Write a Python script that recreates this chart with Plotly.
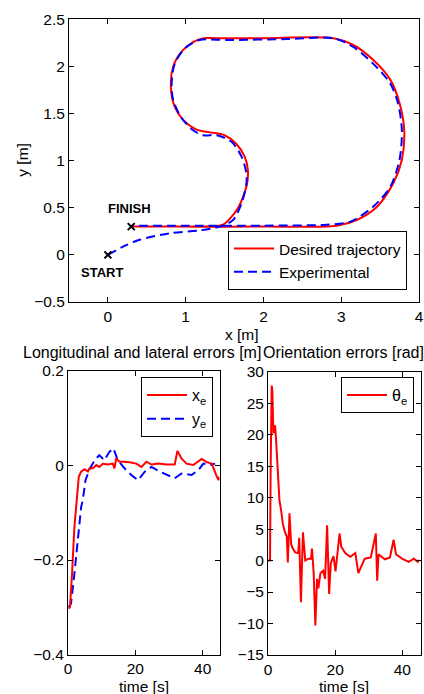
import plotly.graph_objects as go

# ---------------- data: trajectory (m) ----------------
des_x = [0.30, 1.00, 1.30, 1.48, 1.66, 1.78, 1.80, 1.76, 1.65, 1.50, 1.31, 1.14, 0.97, 0.86, 0.81, 0.84,
         0.95, 1.10, 1.23, 1.40, 2.00, 2.90, 3.15, 3.41, 3.63, 3.75, 3.81, 3.78, 3.67, 3.46, 3.20, 2.94,
         2.00, 1.00, 0.30]
des_y = [0.30, 0.30, 0.30, 0.32, 0.48, 0.72, 0.90, 1.04, 1.18, 1.27, 1.30, 1.33, 1.43, 1.57, 1.78, 2.00,
         2.16, 2.26, 2.30, 2.30, 2.30, 2.30, 2.23, 2.07, 1.86, 1.61, 1.32, 1.01, 0.76, 0.51, 0.37, 0.31,
         0.30, 0.30, 0.30]

exp_x = [0.00, 0.20, 0.41, 0.80, 1.18, 1.44, 1.61, 1.72, 1.78, 1.78, 1.72, 1.59, 1.40, 1.23, 1.10, 0.95,
         0.84, 0.82, 0.86, 0.99, 1.18, 1.53, 2.30, 2.90, 3.15, 3.41, 3.63, 3.73, 3.78, 3.75, 3.63, 3.41,
         3.11, 2.81, 2.00, 1.00, 0.30]
exp_y = [0.00, 0.09, 0.16, 0.23, 0.26, 0.30, 0.37, 0.55, 0.75, 0.87, 1.04, 1.20, 1.27, 1.27, 1.32, 1.45,
         1.64, 1.82, 2.03, 2.19, 2.28, 2.28, 2.29, 2.30, 2.21, 2.03, 1.82, 1.61, 1.32, 1.01, 0.72, 0.51,
         0.35, 0.32, 0.31, 0.31, 0.31]

start_pt = [0.0, 0.0]
finish_pt = [0.3, 0.3]

# ---------------- data: longitudinal / lateral errors (m) ----------------
xe_t = [0.2, 0.6, 1.2, 1.9, 2.6, 3.2, 3.9, 4.9, 5.9, 6.4, 7.4, 8.4, 9.3, 10.4, 10.8, 11.8, 13.3, 13.8,
        14.3, 15.3, 16.5, 18.3, 20.3, 21.8, 23.3, 24.8, 26.8, 29.3, 31.7, 32.5, 33.7, 35.2, 37.2, 38.7,
        39.7, 41.2, 42.7, 44.0, 44.7, 45.0]
xe_v = [-0.303, -0.299, -0.229, -0.130, -0.073, -0.024, -0.013, -0.008, -0.013, -0.006, -0.006, 0.001,
        -0.003, 0.004, 0.003, 0.002, 0.004, -0.006, 0.015, 0.008, 0.008, 0.007, 0.004, -0.003, 0.008,
        0.002, 0.004, 0.002, 0.002, 0.031, 0.015, 0.004, 0.001, 0.008, 0.014, 0.007, 0.004, -0.020,
        -0.031, -0.024]

ye_t = [0.2, 0.9, 1.9, 2.9, 3.9, 4.4, 5.2, 6.4, 7.9, 9.3, 10.8, 12.3, 13.5, 14.8, 16.8, 18.8, 20.8,
        22.8, 24.8, 27.3, 29.8, 31.7, 33.7, 36.7, 38.7, 40.2, 42.2, 43.7]
ye_v = [-0.300, -0.292, -0.229, -0.158, -0.088, -0.073, -0.031, -0.008, 0.011, 0.022, 0.011, 0.029,
        0.036, 0.011, -0.006, -0.020, -0.031, -0.013, -0.003, -0.013, -0.020, -0.027, -0.017, -0.020,
        -0.010, 0.004, 0.001, 0.004]

# ---------------- data: orientation error (rad) ----------------
th_t = [0.0, 0.6, 0.8, 1.1, 1.3, 1.6, 2.1, 2.4, 2.9, 3.4, 3.9, 4.4, 5.0, 5.6, 5.9, 6.1, 6.4, 6.9, 7.3,
        8.1, 9.0, 9.3, 9.8, 10.4, 11.1, 12.0, 12.8, 13.1, 13.6, 14.1, 14.6, 15.0, 15.6, 16.4, 17.0, 17.6,
        18.2, 18.7, 19.5, 20.1, 21.3, 21.8, 23.0, 24.5, 26.0, 26.9, 27.8, 28.8, 30.6, 32.1, 32.5, 32.9,
        34.8, 36.3, 37.4, 38.1, 39.9, 41.9, 43.4, 44.6, 45.0]
th_v = [0.0, 0.0, 15.0, 27.8, 27.0, 20.2, 21.5, 19.2, 14.4, 9.6, 8.0, 5.9, 4.6, 3.8, -0.3, 4.9, 7.5,
        2.6, 2.0, 1.3, 1.2, 3.6, -6.6, 4.5, 0.0, 0.3, 0.3, 1.9, -2.0, -10.3, -2.9, -4.4, -2.0, -1.6, -2.9,
        5.6, -5.3, -0.4, 0.7, -1.7, 4.3, 2.2, 1.2, 0.6, 1.2, -2.0, -1.0, 0.3, 0.5, 4.3, -3.2, 1.0, 0.2,
        0.5, 3.3, 1.0, 0.3, -0.2, 0.3, -0.2, 0.1]

RED = "#ff0000"
BLUE = "#0000ff"
FONT = "Liberation Sans, Arial, sans-serif"
DASH = "9px,5px"

fig = go.Figure()

# top trajectory plot
fig.add_trace(go.Scatter(x=des_x, y=des_y, mode="lines", name="Desired trajectory",
                         line=dict(color=RED, width=2, shape="spline", smoothing=0.8),
                         xaxis="x", yaxis="y", legend="legend"))
fig.add_trace(go.Scatter(x=exp_x, y=exp_y, mode="lines", name="Experimental",
                         line=dict(color=BLUE, width=2, dash=DASH, shape="spline", smoothing=0.8),
                         xaxis="x", yaxis="y", legend="legend"))
fig.add_trace(go.Scatter(x=[start_pt[0], finish_pt[0]], y=[start_pt[1], finish_pt[1]], mode="markers",
                         marker=dict(symbol="x-thin", size=7, line=dict(color="black", width=2)),
                         showlegend=False, xaxis="x", yaxis="y"))

# bottom-left errors
fig.add_trace(go.Scatter(x=ye_t, y=ye_v, mode="lines", name="y<sub>e</sub>",
                         line=dict(color=BLUE, width=2, dash=DASH),
                         xaxis="x2", yaxis="y2", legend="legend2", legendrank=2))
fig.add_trace(go.Scatter(x=xe_t, y=xe_v, mode="lines", name="x<sub>e</sub>",
                         line=dict(color=RED, width=2),
                         xaxis="x2", yaxis="y2", legend="legend2", legendrank=1))

# bottom-right orientation error
fig.add_trace(go.Scatter(x=th_t, y=th_v, mode="lines", name="θ<sub>e</sub>",
                         line=dict(color=RED, width=2),
                         xaxis="x3", yaxis="y3", legend="legend3"))

W, H = 424, 694


def px_x(p):
    return p / W


def px_y(p):
    return 1 - p / H


ax_common = dict(showline=True, linecolor="black", linewidth=1, mirror="ticks", ticks="inside",
                 ticklen=5, tickcolor="black", tickwidth=1, showgrid=False, zeroline=False,
                 automargin=False,
                 tickfont=dict(family=FONT, size=15.5, color="black"))

fig.update_layout(
    width=W, height=H, margin=dict(l=0, r=0, t=0, b=0, pad=0, autoexpand=False),
    paper_bgcolor="white", plot_bgcolor="white",
    font=dict(family=FONT, size=16, color="black"),
    xaxis=dict(domain=[px_x(69), px_x(419)], range=[-0.5, 4], tick0=0, dtick=1, anchor="y", **ax_common),
    yaxis=dict(domain=[px_y(302), px_y(19.3)], range=[-0.5, 2.5], tick0=0, dtick=0.5, anchor="x", **ax_common),
    xaxis2=dict(domain=[px_x(68), px_x(219.5)], range=[0, 45], tick0=0, dtick=20, anchor="y2", **ax_common),
    yaxis2=dict(domain=[px_y(654.5), px_y(371)], range=[-0.4, 0.2], tick0=0, dtick=0.2, anchor="x2", **ax_common),
    xaxis3=dict(domain=[px_x(268), px_x(420.5)], range=[0, 45.4], tick0=0, dtick=20, anchor="y3", **ax_common),
    yaxis3=dict(domain=[px_y(655), px_y(371.7)], range=[-15, 30], tick0=0, dtick=5, anchor="x3", **ax_common),
    legend=dict(x=px_x(407), y=px_y(290), xanchor="right", yanchor="bottom",
                bordercolor="black", borderwidth=1, bgcolor="white",
                font=dict(family=FONT, size=15.5), itemwidth=40, tracegroupgap=0),
    legend2=dict(x=px_x(213), y=px_y(377), xanchor="right", yanchor="top",
                 bordercolor="black", borderwidth=1, bgcolor="white",
                 font=dict(family=FONT, size=16), itemwidth=40),
    legend3=dict(x=px_x(414), y=px_y(377), xanchor="right", yanchor="top",
                 bordercolor="black", borderwidth=1, bgcolor="white",
                 font=dict(family=FONT, size=16), itemwidth=40),
)

ann_font = dict(family=FONT, size=15.5, color="black")
title_font = dict(family=FONT, size=16, color="black")
annotations = [
    dict(text="y [m]", x=px_x(21.7), y=px_y(160), xref="paper", yref="paper", textangle=-90,
         showarrow=False, font=ann_font, xanchor="center", yanchor="middle"),
    dict(text="x [m]", x=px_x(242), y=px_y(334), xref="paper", yref="paper",
         showarrow=False, font=ann_font, xanchor="center", yanchor="middle"),
    dict(text="Longitudinal and lateral errors [m]", x=px_x(262), y=px_y(352), xref="paper", yref="paper",
         showarrow=False, font=title_font, xanchor="right", yanchor="middle", borderpad=0),
    dict(text="Orientation errors [rad]", x=px_x(262), y=px_y(352), xref="paper", yref="paper",
         showarrow=False, font=title_font, xanchor="left", yanchor="middle", borderpad=0),
    dict(text="time [s]", x=px_x(143.5), y=px_y(686), xref="paper", yref="paper",
         showarrow=False, font=ann_font, xanchor="center", yanchor="middle"),
    dict(text="time [s]", x=px_x(344), y=px_y(686), xref="paper", yref="paper",
         showarrow=False, font=ann_font, xanchor="center", yanchor="middle"),
    dict(text="<b>FINISH</b>", x=0.275, y=0.497, xref="x", yref="y", showarrow=False,
         font=dict(family=FONT, size=13, color="black"), xanchor="center", yanchor="middle"),
    dict(text="<b>START</b>", x=-0.072, y=-0.183, xref="x", yref="y", showarrow=False,
         font=dict(family=FONT, size=13, color="black"), xanchor="center", yanchor="middle"),
]
fig.update_layout(annotations=annotations)

fig.write_html("out.html")
